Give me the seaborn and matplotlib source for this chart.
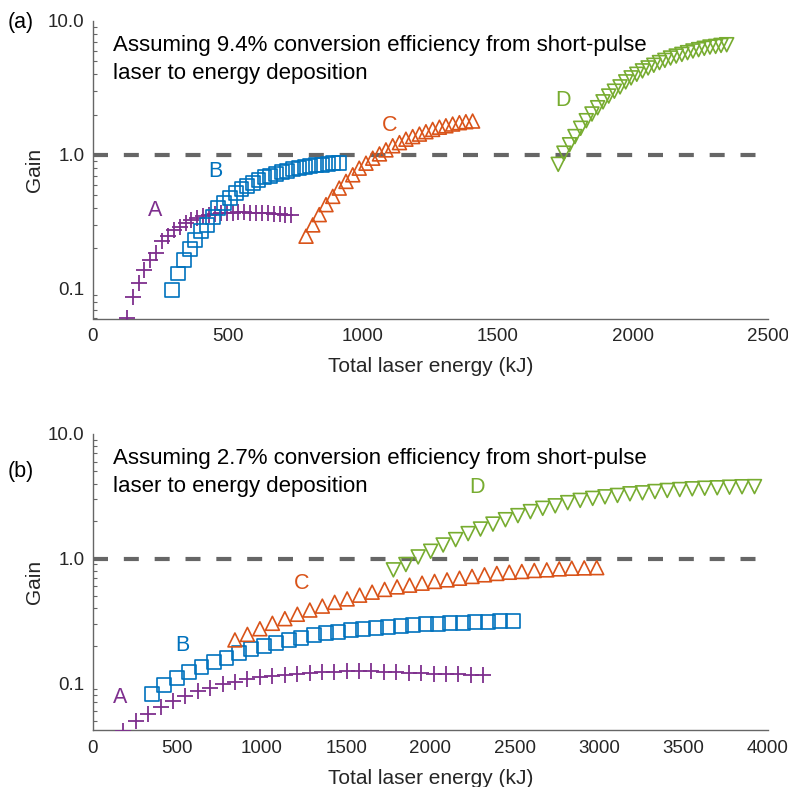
import numpy as np
import pandas as pd
import matplotlib
matplotlib.use("Agg")
import matplotlib.pyplot as plt
import seaborn as sns
from matplotlib.ticker import FixedLocator, FixedFormatter, LogLocator, NullFormatter

# ---------------- data: panel (a), 9.4% conversion efficiency ----------------
a_A_x = [125, 147, 169, 190, 212, 234, 256, 277, 299, 321, 343, 364, 386, 408, 430,
         451, 473, 495, 517, 538, 560, 582, 604, 625, 647, 669, 691, 712, 734]
a_A_gain = [0.061, 0.087, 0.111, 0.137, 0.164, 0.186, 0.226, 0.25, 0.274, 0.29, 0.31,
            0.325, 0.337, 0.347, 0.355, 0.361, 0.366, 0.369, 0.371, 0.372, 0.372, 0.371,
            0.37, 0.368, 0.366, 0.364, 0.361, 0.358, 0.355]

a_B_x = [294, 315, 337, 358, 379, 401, 422, 443, 464, 486, 507, 528, 550, 571, 592,
         613, 635, 656, 677, 699, 720, 741, 762, 784, 805, 826, 848, 869, 890, 911]
a_B_gain = [0.098, 0.13, 0.164, 0.197, 0.233, 0.269, 0.30, 0.345, 0.40, 0.44, 0.48,
            0.52, 0.555, 0.59, 0.62, 0.65, 0.68, 0.70, 0.72, 0.74, 0.76, 0.78, 0.80,
            0.81, 0.82, 0.835, 0.845, 0.855, 0.865, 0.87]

a_C_x = [789, 814, 838, 863, 888, 912, 937, 962, 986, 1011, 1036, 1061, 1085, 1110,
         1135, 1159, 1184, 1209, 1233, 1258, 1283, 1307, 1332, 1357, 1381, 1406]
a_C_gain = [0.247, 0.30, 0.358, 0.425, 0.49, 0.565, 0.634, 0.71, 0.796, 0.867, 0.945,
            1.017, 1.09, 1.17, 1.235, 1.31, 1.37, 1.43, 1.49, 1.55, 1.61, 1.65, 1.70,
            1.74, 1.77, 1.79]

a_D_x = [1723, 1744, 1765, 1785, 1806, 1827, 1848, 1869, 1889, 1910, 1931, 1952, 1973,
         1993, 2014, 2035, 2056, 2077, 2098, 2118, 2139, 2160, 2181, 2202, 2222, 2243,
         2264, 2285, 2306, 2326, 2347]
a_D_gain = [0.85, 1.03, 1.19, 1.37, 1.58, 1.80, 2.02, 2.25, 2.49, 2.75, 2.99, 3.22, 3.51,
            3.76, 4.00, 4.24, 4.46, 4.67, 4.89, 5.08, 5.29, 5.47, 5.63, 5.80, 5.97, 6.11,
            6.25, 6.39, 6.46, 6.57, 6.65]

# ---------------- data: panel (b), 2.7% conversion efficiency ----------------
b_A_x = [180, 254, 327, 401, 474, 548, 621, 695, 768, 842, 915, 989, 1062, 1136, 1209,
         1283, 1356, 1430, 1503, 1577, 1650, 1724, 1797, 1871, 1944, 2018, 2091, 2165,
         2238, 2312]
b_A_gain = [0.0415, 0.0493, 0.0565, 0.0638, 0.0713, 0.079, 0.0857, 0.092, 0.098, 0.102,
            0.1076, 0.111, 0.114, 0.1165, 0.119, 0.1216, 0.123, 0.1238, 0.125, 0.124,
            0.124, 0.123, 0.1225, 0.1216, 0.1203, 0.119, 0.1181, 0.1172, 0.1165, 0.116]

b_B_x = [348, 422, 496, 569, 643, 717, 791, 864, 938, 1012, 1086, 1159, 1233, 1307, 1381,
         1454, 1528, 1602, 1676, 1749, 1823, 1897, 1971, 2044, 2118, 2192, 2266, 2339,
         2413, 2487]
b_B_gain = [0.0817, 0.0964, 0.1096, 0.123, 0.135, 0.148, 0.160, 0.174, 0.187, 0.199,
            0.211, 0.221, 0.232, 0.242, 0.251, 0.259, 0.2655, 0.272, 0.2785, 0.282, 0.287,
            0.291, 0.296, 0.2997, 0.3035, 0.3054, 0.309, 0.311, 0.313, 0.315]

b_C_x = [841, 915, 989, 1063, 1137, 1211, 1285, 1359, 1432, 1506, 1580, 1654, 1728, 1802,
         1876, 1950, 2024, 2098, 2172, 2246, 2320, 2393, 2467, 2541, 2615, 2689, 2763,
         2837, 2911, 2985]
b_C_gain = [0.222, 0.246, 0.273, 0.302, 0.329, 0.357, 0.386, 0.415, 0.445, 0.474, 0.508,
            0.537, 0.565, 0.592, 0.611, 0.634, 0.655, 0.674, 0.695, 0.718, 0.740, 0.759,
            0.776, 0.787, 0.802, 0.811, 0.826, 0.836, 0.841, 0.845]

b_D_x = [1780, 1854, 1927, 2001, 2075, 2149, 2223, 2296, 2370, 2444, 2518, 2592, 2665,
         2739, 2813, 2887, 2961, 3034, 3108, 3182, 3256, 3330, 3403, 3477, 3551, 3625,
         3699, 3772, 3846, 3920]
b_D_gain = [0.811, 0.895, 1.03, 1.144, 1.284, 1.419, 1.585, 1.725, 1.89, 2.05, 2.21, 2.38,
            2.53, 2.65, 2.81, 2.93, 3.04, 3.13, 3.21, 3.31, 3.37, 3.45, 3.52, 3.58, 3.63,
            3.67, 3.70, 3.74, 3.77, 3.78]

series_names = ["A", "B", "C", "D"]
series_colors = {"A": "#7E2F8E", "B": "#0072BD", "C": "#D95319", "D": "#77AC30"}
series_markers = {"A": "+", "B": "s", "C": "^", "D": "v"}

a_label_pos = {"A": (230, 0.384), "B": (452, 0.748), "C": (1100, 1.67), "D": (1741, 2.56)}
b_label_pos = {"A": (160, 0.0767), "B": (527, 0.201), "C": (1239, 0.625), "D": (2276, 3.70)}

a_text = "Assuming 9.4% conversion efficiency from short-pulse\nlaser to energy deposition"
b_text = "Assuming 2.7% conversion efficiency from short-pulse\nlaser to energy deposition"

y_ticks = [0.1, 1.0, 10.0]
y_ticklabels = ["0.1", "1.0", "10.0"]
a_xticks = [0, 500, 1000, 1500, 2000, 2500]
b_xticks = [0, 500, 1000, 1500, 2000, 2500, 3000, 3500, 4000]

# ---------------- styling ----------------
sns.set_theme(style="white")
plt.rcParams["font.family"] = ["Liberation Sans", "DejaVu Sans"]
plt.rcParams["axes.unicode_minus"] = False

fig = plt.figure(figsize=(7.88, 7.87), dpi=100)

def make_df(xs, ys):
    return pd.DataFrame({"energy": xs, "gain": ys})

def draw_panel(ax, data, xlim, ylim, xticks, label_pos, text, tag, tag_y):
    for name in series_names:
        xs, ys = data[name]
        df = make_df(xs, ys)
        m = series_markers[name]
        c = series_colors[name]
        if m == "+":
            sns.scatterplot(data=df, x="energy", y="gain", ax=ax, marker="+",
                            s=120, color=c, linewidth=1.3, zorder=3)
        else:
            sns.scatterplot(data=df, x="energy", y="gain", ax=ax, marker=m,
                            s=100, color=c, facecolor="none", edgecolor=c,
                            linewidth=1.2, zorder=3)
        lx, ly = label_pos[name]
        ax.text(lx, ly, name, color=c, fontsize=15.5, ha="center", va="center")
    ax.axhline(1.0, color="#666666", lw=3.0, dashes=(3.6, 3.8), zorder=2)
    ax.set_yscale("log")
    ax.set_xlim(*xlim)
    ax.set_ylim(*ylim)
    ax.xaxis.set_major_locator(FixedLocator(xticks))
    ax.set_xticklabels([str(t) for t in xticks])
    ax.yaxis.set_major_locator(FixedLocator(y_ticks))
    ax.yaxis.set_major_formatter(FixedFormatter(y_ticklabels))
    ax.yaxis.set_minor_locator(LogLocator(base=10, subs=np.arange(2, 10)))
    ax.yaxis.set_minor_formatter(NullFormatter())
    ax.tick_params(axis="both", which="major", direction="in", length=5, width=1,
                   color="#666666", labelsize=13.5, labelcolor="#262626")
    ax.tick_params(axis="x", which="major", pad=7)
    ax.tick_params(axis="y", which="major", pad=6)
    ax.tick_params(axis="y", which="minor", direction="in", length=3, width=0.8,
                   color="#666666", left=True)
    for side in ["top", "right"]:
        ax.spines[side].set_visible(False)
    for side in ["left", "bottom"]:
        ax.spines[side].set_color("#666666")
        ax.spines[side].set_linewidth(1.0)
    ax.set_xlabel("Total laser energy (kJ)", fontsize=15, color="#262626", labelpad=8.5)
    ax.set_ylabel("Gain", fontsize=15, color="#262626", labelpad=3)
    ax.text(0.03, 0.952, text, transform=ax.transAxes, fontsize=16, ha="left",
            va="top", color="black", linespacing=1.42)
    ax.text(-0.126, tag_y, tag, transform=ax.transAxes, fontsize=15.5, ha="left",
            va="center", color="black")
    ax.grid(False)

ax1 = fig.add_axes([93 / 788, 1 - 318.5 / 787, 675 / 788, 297.5 / 787])
ax2 = fig.add_axes([93 / 788, 1 - 730 / 787, 675 / 788, 296 / 787])

data_a = {"A": (a_A_x, a_A_gain), "B": (a_B_x, a_B_gain),
          "C": (a_C_x, a_C_gain), "D": (a_D_x, a_D_gain)}
data_b = {"A": (b_A_x, b_A_gain), "B": (b_B_x, b_B_gain),
          "C": (b_C_x, b_C_gain), "D": (b_D_x, b_D_gain)}

draw_panel(ax1, data_a, (0, 2500), (0.06, 10.0), a_xticks, a_label_pos, a_text, "(a)", 0.995)
draw_panel(ax2, data_b, (0, 4000), (0.042, 10.0), b_xticks, b_label_pos, b_text, "(b)", 0.872)

fig.savefig("out.png", dpi=100)
